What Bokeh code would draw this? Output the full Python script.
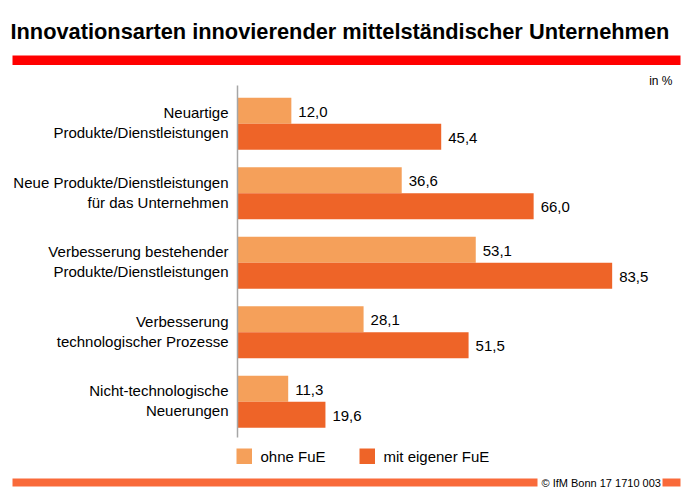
from bokeh.plotting import figure
from bokeh.models import Range1d, ColumnDataSource, Label, LabelSet
from bokeh.core.properties import value
from bokeh.embed import file_html
from bokeh.resources import INLINE

# ---- data ----
categories = [
    "Neuartige\nProdukte/Dienstleistungen",
    "Neue Produkte/Dienstleistungen\nfür das Unternehmen",
    "Verbesserung bestehender\nProdukte/Dienstleistungen",
    "Verbesserung\ntechnologischer Prozesse",
    "Nicht-technologische\nNeuerungen",
]
ohne_fue = [12.0, 36.6, 53.1, 28.1, 11.3]
mit_fue = [45.4, 66.0, 83.5, 51.5, 19.6]
series_names = ["ohne FuE", "mit eigener FuE"]
title_text = "Innovationsarten innovierender mittelständischer Unternehmen"
unit_text = "in %"
source_text = "© IfM Bonn 17 1710 003"

LIGHT = "#F5A05A"
DARK = "#EE6428"
FONT = "Liberation Sans"

W, H = 695, 498
X0_PX = 237.0          # pixel of value 0
PX_PER_UNIT = 4.487    # pixels per percent
GROUP0_PX = 123.3      # pixel (from top) of first group centre
GROUP_PX = 69.5        # pixels between groups

x_start = -X0_PX / PX_PER_UNIT
x_end = (W - X0_PX) / PX_PER_UNIT
y_top = -GROUP0_PX / GROUP_PX
y_bot = (H - GROUP0_PX) / GROUP_PX

p = figure(width=W, height=H, output_backend="svg", toolbar_location=None,
           x_range=Range1d(x_start, x_end), y_range=Range1d(y_bot, y_top),
           x_axis_type=None, y_axis_type=None, min_border=0,
           outline_line_color=None, background_fill_color="white",
           border_fill_color="white")
p.grid.visible = False


def px_x(px):
    return x_start + px / PX_PER_UNIT


def px_y(py):
    return y_top + py / GROUP_PX


bar_h = 26.0 / GROUP_PX
idx = list(range(len(categories)))
fmt = lambda v: f"{v:.1f}".replace(".", ",")

src = ColumnDataSource(dict(
    y_light=[i - bar_h / 2 for i in idx],
    y_dark=[i + bar_h / 2 for i in idx],
    ohne=ohne_fue, mit=mit_fue,
    ohne_lbl=[fmt(v) for v in ohne_fue],
    mit_lbl=[fmt(v) for v in mit_fue],
))

p.hbar(y="y_light", left=0, right="ohne", height=bar_h, source=src,
       fill_color=LIGHT, line_color=None)
p.hbar(y="y_dark", left=0, right="mit", height=bar_h, source=src,
       fill_color=DARK, line_color=None)

# vertical axis line
p.segment(x0=[0], x1=[0], y0=[px_y(85)], y1=[px_y(437)],
          line_color="#A6A6A6", line_width=1.5)

p.add_layout(LabelSet(x="ohne", y="y_light", text="ohne_lbl", source=src,
                      x_offset=7, text_font=value(FONT), text_font_size="15px",
                      text_baseline="middle", text_color="black", y_offset=-1))
p.add_layout(LabelSet(x="mit", y="y_dark", text="mit_lbl", source=src,
                      x_offset=7, text_font=value(FONT), text_font_size="15px",
                      text_baseline="middle", text_color="black", y_offset=-1))

# category labels (two lines each)
for i, cat in enumerate(categories):
    lines = cat.split("\n")
    for j, ln in enumerate(lines):
        p.add_layout(Label(x=px_x(228), y=i + (j - 0.5) * 20 / GROUP_PX - 1 / GROUP_PX,
                           text=ln, text_align="right", text_baseline="middle",
                           text_font=FONT, text_font_size="15px",
                           text_color="black"))

# title
p.add_layout(Label(x=px_x(10), y=px_y(31), text=title_text, text_font=FONT,
                   text_font_size="21.8px", text_font_style="bold",
                   text_baseline="alphabetic", text_color="black"))
# red rule
p.quad(left=[px_x(12)], right=[px_x(680)], top=[px_y(55)], bottom=[px_y(64.5)],
       fill_color="#FF0000", line_color=None)
# unit
p.add_layout(Label(x=px_x(672), y=px_y(80), text=unit_text, text_align="right",
                   text_baseline="alphabetic", text_font=FONT,
                   text_font_size="12px", text_color="black"))

# legend
for k, (name, col, lx) in enumerate(zip(series_names, [LIGHT, DARK], [236, 359])):
    p.quad(left=[px_x(lx)], right=[px_x(lx + 15.5)], top=[px_y(448)],
           bottom=[px_y(463.5)], fill_color=col, line_color=None)
    p.add_layout(Label(x=px_x(lx + 24), y=px_y(456), text=name, text_baseline="middle",
                       text_font=FONT, text_font_size="15px", text_color="black"))

# footer
FOOT = "#F96A3A"
p.quad(left=[px_x(12)], right=[px_x(537)], top=[px_y(478)], bottom=[px_y(486)],
       fill_color=FOOT, line_color=None)
p.quad(left=[px_x(662)], right=[px_x(680)], top=[px_y(478)], bottom=[px_y(486)],
       fill_color=FOOT, line_color=None)
p.add_layout(Label(x=px_x(541), y=px_y(482), text=source_text, text_baseline="middle",
                   text_font=FONT, text_font_size="11px", text_color="black"))

open("out.html", "w").write(file_html(p, INLINE))
